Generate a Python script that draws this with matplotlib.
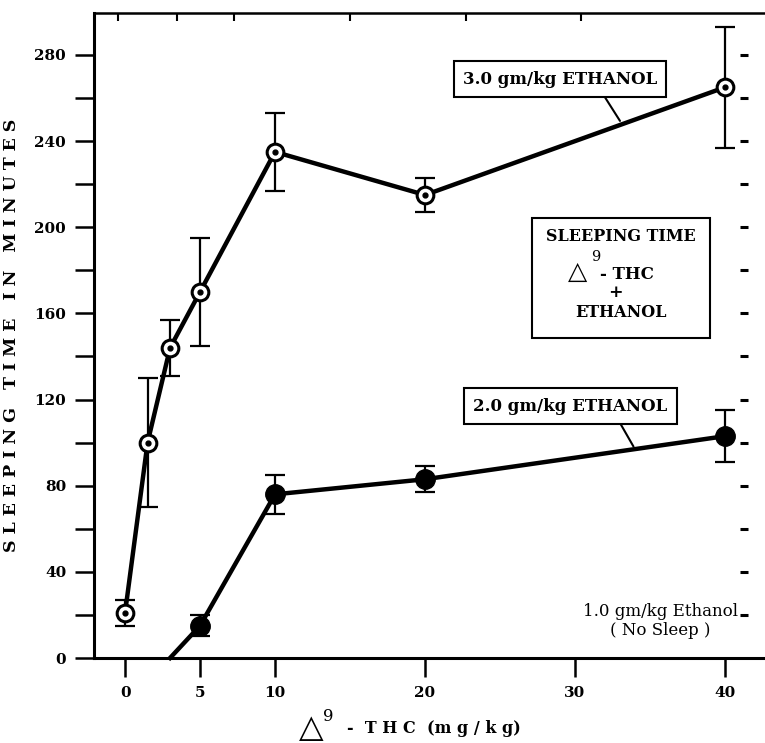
import numpy as np
import matplotlib
matplotlib.use('Agg')
import matplotlib.pyplot as plt
from matplotlib.patches import Rectangle

plt.rcParams['font.family'] = 'DejaVu Serif'
plt.rcParams['font.weight'] = 'bold'

# 3.0 gm/kg ethanol (open circles)
dose_3g = [0, 1.5, 3, 5, 10, 20, 40]
sleep_3g = [21, 100, 144, 170, 235, 215, 265]
err_3g = [6, 30, 13, 25, 18, 8, 28]

# 2.0 gm/kg ethanol (filled circles), first point = where line meets zero
dose_2g = [3, 5, 10, 20, 40]
sleep_2g = [0, 15, 76, 83, 103]
err_2g = [0, 5, 9, 6, 12]

x_ticks = [0, 5, 10, 20, 30, 40]
y_ticks = [0, 40, 80, 120, 160, 200, 240, 280]
y_minor = [20, 60, 100, 140, 180, 220, 260]
right_ticks = list(range(20, 300, 20))
top_ticks = [-0.47, 3.47, 7.27, 15.0, 22.73, 30.4]

fig = plt.figure(figsize=(7.65, 7.43), dpi=100)
ax = fig.add_axes([0.1229, 0.1144, 0.8771, 0.8681])

# upper curve
ax.errorbar(dose_3g, sleep_3g, yerr=err_3g, fmt='none', ecolor='black',
            elinewidth=1.6, capsize=7, capthick=1.6, zorder=2)
ax.plot(dose_3g, sleep_3g, color='black', lw=3.2, marker='o', ms=12,
        mfc='white', mec='black', mew=2.2, zorder=3)
ax.plot(dose_3g, sleep_3g, ls='none', marker='o', ms=3.5, color='black', zorder=4)

# lower curve
ax.errorbar(dose_2g[1:], sleep_2g[1:], yerr=err_2g[1:], fmt='none', ecolor='black',
            elinewidth=1.6, capsize=7, capthick=1.6, zorder=2)
ax.plot(dose_2g, sleep_2g, color='black', lw=3.2, marker='o', ms=14,
        mfc='black', mec='black', markevery=[1, 2, 3, 4], zorder=3, clip_on=False)

ax.set_xlim(-2.07, 42.67)
ax.set_ylim(0, 299.5)

for s in ['left', 'bottom']:
    ax.spines[s].set_linewidth(2.2)
ax.spines['top'].set_linewidth(1.8)
ax.spines['right'].set_visible(False)

ax.set_xticks(x_ticks)
ax.set_yticks(y_ticks)
ax.set_yticks(y_minor, minor=True)
ax.tick_params(axis='both', which='both', direction='out', length=14, width=1.8,
               labelsize=11, pad=6, top=False, right=False)
for lab in ax.get_xticklabels() + ax.get_yticklabels():
    lab.set_fontweight('bold')

# top ticks
sec_top = ax.secondary_xaxis('top')
sec_top.set_xticks(top_ticks)
sec_top.set_xticklabels([])
sec_top.tick_params(direction='in', length=6, width=1.5)
sec_top.spines['top'].set_visible(False)

# right-side dashes
sec_r = ax.secondary_yaxis(0.969)
sec_r.set_yticks(right_ticks)
sec_r.set_yticklabels([])
sec_r.tick_params(direction='inout', length=6, width=2.2)
sec_r.spines['right'].set_visible(False)
sec_r.spines['left'].set_visible(False)

ax.set_ylabel('S L E E P I N G   T I M E   I N   M I N U T E S', fontsize=12.5,
              fontweight='bold')
ax.yaxis.set_label_coords(-0.11, 0.5)

# x label: delta-9 THC
ax.text(0.3055, -0.11, '\u25b3', transform=ax.transAxes, fontsize=23,
        family='DejaVu Sans', fontweight='normal', ha='left', va='center')
ax.text(0.341, -0.091, '9', transform=ax.transAxes, fontsize=12,
        fontweight='normal', ha='left', va='center')
ax.text(0.377, -0.11, '-  T H C  (m g / k g)', transform=ax.transAxes,
        fontsize=11.5, ha='left', va='center', fontweight='bold')

box = dict(boxstyle='square,pad=0.55', fc='white', ec='black', lw=1.5)
ax.annotate('3.0 gm/kg ETHANOL', xy=(33.0, 249.4), xytext=(29.0, 268.8),
            ha='center', va='center', fontsize=12, fontweight='bold', bbox=box,
            arrowprops=dict(arrowstyle='-', color='black', lw=1.5,
                            relpos=(0.7, 0), shrinkA=0, shrinkB=0))
ax.annotate('2.0 gm/kg ETHANOL', xy=(33.9, 98.2), xytext=(29.7, 117.0),
            ha='center', va='center', fontsize=12, fontweight='bold', bbox=box,
            arrowprops=dict(arrowstyle='-', color='black', lw=1.5,
                            relpos=(0.73, 0), shrinkA=0, shrinkB=0))

# central legend box
ax.add_patch(Rectangle((27.13, 148.6), 11.87, 55.7, fc='white', ec='black',
                       lw=1.5, zorder=5))
ax.text(33.07, 195.5, 'SLEEPING TIME', fontsize=11.5, fontweight='bold',
        ha='center', va='center', zorder=6)
ax.text(30.15, 179.2, '\u25b3', fontsize=18, family='DejaVu Sans',
        fontweight='normal', ha='center', va='center', zorder=6)
ax.text(31.05, 186.4, '9', fontsize=10.5, fontweight='normal', ha='left',
        va='center', zorder=6)
ax.text(31.7, 178.0, '- THC', fontsize=12, fontweight='bold', ha='left',
        va='center', zorder=6)
ax.text(32.73, 169.6, '+', fontsize=12.5, fontweight='bold', ha='center',
        va='center', zorder=6)
ax.text(33.07, 160.4, 'ETHANOL', fontsize=11.5, fontweight='bold',
        ha='center', va='center', zorder=6)

ax.text(35.7, 17.2, '1.0 gm/kg Ethanol\n( No Sleep )', ha='center', va='center',
        fontsize=12, fontweight='normal', linespacing=1.1)

fig.savefig('out.png', dpi=100)
